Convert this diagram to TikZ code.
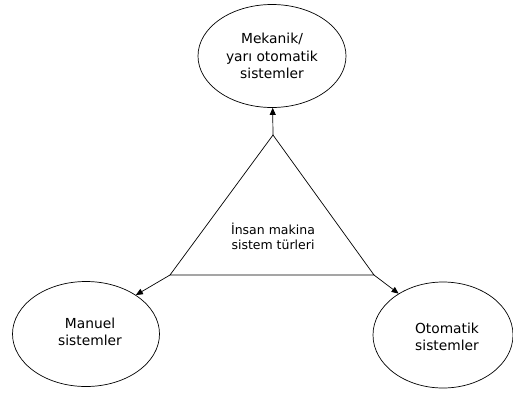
\documentclass[tikz,border=0pt]{standalone}
\usepackage{fontspec}
\setmainfont{DejaVu Sans}
\usetikzlibrary{shapes.geometric,arrows.meta}
\begin{document}
\begin{tikzpicture}[x=1pt,y=-1pt,
  oval/.style={draw,ellipse,inner sep=0pt,line width=0.7pt,align=center,
    font=\fontsize{13.8}{17.5}\selectfont},
  conn/.style={line width=0.7pt},
  arr/.style={conn,-{Triangle[length=7pt,width=6pt]}}]
\useasboundingbox (0,0) rectangle (513,394);
\node[oval,minimum width=148pt,minimum height=103pt] (top) at (272,56) {Mekanik/\\yarı otomatik\\sistemler};
\node[oval,minimum width=147pt,minimum height=105pt] (left) at (86,334) {};
\node[align=center,font=\fontsize{13.8}{17.5}\selectfont] (lt) at (90,332) {Manuel\\sistemler};
\node[oval,minimum width=140pt,minimum height=106pt] (right) at (443,335) {};
\node[align=center,font=\fontsize{13.8}{17.5}\selectfont] (rt) at (447,337) {Otomatik\\sistemler};
\coordinate (apex) at (273,135);
\coordinate (bl) at (170,275);
\coordinate (br) at (374,275);
\draw[conn] (apex) -- (bl) -- (br) -- cycle;
\node[align=center,font=\fontsize{12.5}{15}\selectfont] (lbl) at (273,236) {İnsan makina\\sistem türleri};
\draw[arr] (apex) -- (top);
\draw[arr] (bl) -- (left.38);
\draw[arr] (br) -- (right.137);
\end{tikzpicture}
\end{document}
